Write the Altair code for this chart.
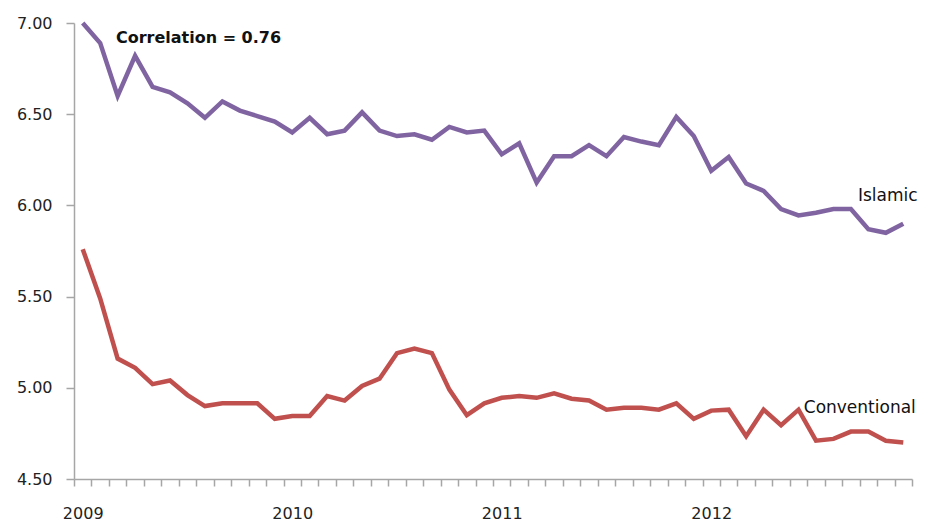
import altair as alt
import pandas as pd

years = ["2009", "2010", "2011", "2012"]

islamic = [7.00, 6.89, 6.60, 6.82, 6.65, 6.62, 6.56, 6.48, 6.57, 6.52, 6.49, 6.46,
           6.40, 6.48, 6.39, 6.41, 6.51, 6.41, 6.38, 6.39, 6.36, 6.43, 6.40, 6.41,
           6.28, 6.34, 6.125, 6.27, 6.27, 6.33, 6.27, 6.375, 6.35, 6.33, 6.485, 6.38,
           6.19, 6.265, 6.12, 6.08, 5.98, 5.945, 5.96, 5.98, 5.98, 5.87, 5.85, 5.90]

conventional = [5.76, 5.49, 5.16, 5.11, 5.02, 5.04, 4.96, 4.90, 4.915, 4.915, 4.915, 4.83,
                4.845, 4.845, 4.955, 4.93, 5.01, 5.05, 5.19, 5.215, 5.19, 4.99, 4.85, 4.915,
                4.945, 4.955, 4.945, 4.97, 4.94, 4.93, 4.88, 4.89, 4.89, 4.88, 4.915, 4.83,
                4.875, 4.88, 4.735, 4.88, 4.795, 4.88, 4.71, 4.72, 4.76, 4.76, 4.71, 4.70]

y_ticks = [4.5, 5.0, 5.5, 6.0, 6.5, 7.0]

annot_names = ["Islamic", "Conventional"]
annot_x = [44.4, 41.3]
annot_y = [6.05, 4.89]
corr_text = ["Correlation = 0.76"]
corr_x = [1.9]
corr_y = [6.92]

n = len(islamic)
rows = []
for i, v in enumerate(islamic):
    rows.append({"idx": i, "value": v, "series": "Islamic"})
for i, v in enumerate(conventional):
    rows.append({"idx": i, "value": v, "series": "Conventional"})
df = pd.DataFrame(rows)

tick_vals = [i - 0.5 for i in range(n + 1)]
label_parts = " : ".join(
    f"datum.value == {12 * k - 0.5} ? '{y}'" for k, y in enumerate(years)
)
label_expr = label_parts + " : ''"

x_scale = alt.Scale(domain=[-0.5, n - 0.5], nice=False, zero=False)
y_scale = alt.Scale(domain=[4.5, 7.0], nice=False, zero=False)

axis_color = "#A6A6A6"
label_color = "#222222"
font = "DejaVu Sans"

lines = alt.Chart(df).mark_line(strokeWidth=4.5, clip=False).encode(
    x=alt.X("idx:Q", scale=x_scale, title=None,
            axis=alt.Axis(values=tick_vals, tickCount=200, labelExpr=label_expr,
                          labelOffset=8.7,
                          labelFlush=False, labelOverlap=False, grid=False,
                          domainColor=axis_color, tickColor=axis_color,
                          domainWidth=1.5, tickWidth=1.5, tickSize=7,
                          labelPadding=19, labelFont=font, labelFontSize=16,
                          labelColor=label_color)),
    y=alt.Y("value:Q", scale=y_scale, title=None,
            axis=alt.Axis(values=y_ticks, tickCount=20, format=".2f", grid=False,
                          domainColor=axis_color, tickColor=axis_color,
                          domainWidth=1.5, tickWidth=1.5, tickSize=8,
                          labelPadding=14, labelFont=font, labelFontSize=16,
                          labelColor=label_color)),
    color=alt.Color("series:N", legend=None,
                    scale=alt.Scale(domain=["Islamic", "Conventional"],
                                    range=["#8064A2", "#C0504D"])),
)

annot_df = pd.DataFrame({"x": annot_x, "y": annot_y, "text": annot_names})
corr_df = pd.DataFrame({"x": corr_x, "y": corr_y, "text": corr_text})

annots = alt.Chart(annot_df).mark_text(
    align="left", baseline="middle", font=font, fontSize=17, color="#111111"
).encode(x="x:Q", y="y:Q", text="text:N")

corr = alt.Chart(corr_df).mark_text(
    align="left", baseline="middle", font=font, fontSize=16, fontWeight="bold",
    color="#111111"
).encode(x="x:Q", y="y:Q", text="text:N")

chart = alt.layer(lines, annots, corr).properties(
    width=838, height=456,
    autosize=alt.AutoSizeParams(type="none"),
    padding={"left": 66, "top": 15, "right": 7, "bottom": 48},
    background="white",
).configure_view(stroke=None)

chart.save("out.html", embed_options={"renderer": "svg", "actions": False})
